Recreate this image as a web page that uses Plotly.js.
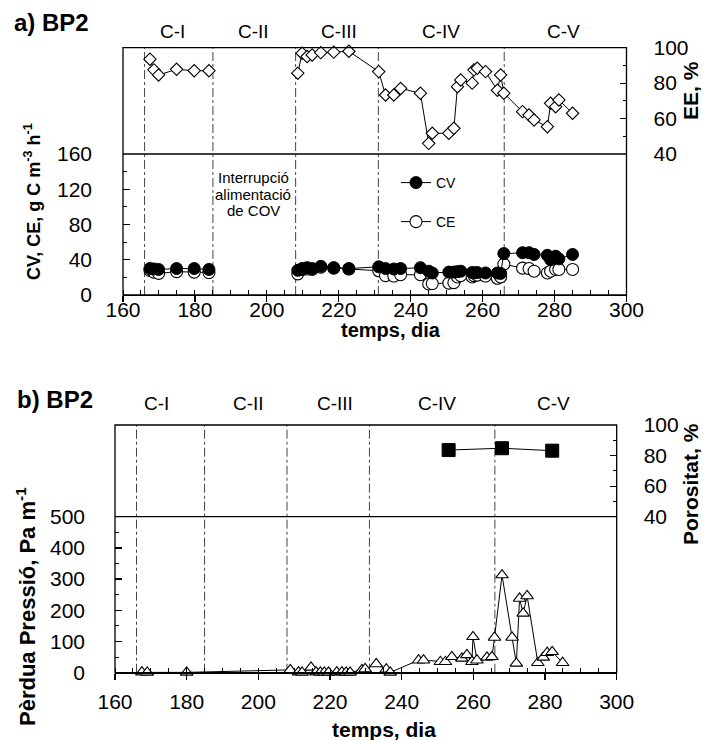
<!DOCTYPE html>
<html><head><meta charset="utf-8">
<script src="https://cdn.plot.ly/plotly-3.0.1.min.js"></script>
<style>body{margin:0;background:#fff}#chart{width:703px;height:740px}</style>
</head><body><div id="chart"></div>
<script>
// ---------- data (panel a) ----------
const diesA = [167.5, 168.6, 169.9, 174.9, 179.8, 183.9,
  208.6, 209.8, 211.2, 212.6, 215, 218.6, 222.8,
  231.1, 233, 235.3, 237.2, 242.7, 245, 246, 250.6, 252, 253, 253.9, 257.1, 257.6, 258.5, 260.8, 264.1, 265, 265.9,
  271.1, 272.9, 274.3, 278, 278.9, 280.3, 281.2, 285];
const CV = [30, 29.5, 29, 30, 30, 29,
  28, 30, 31, 30, 32.5, 31, 30,
  32, 30, 29.5, 30, 31, 27, 25, 26, 26, 26.5, 27, 25.5, 25, 25.5, 25, 25, 24.5, 47,
  48, 48, 46, 45, 40, 44, 41, 46];
const CE = [28, 26, 24.5, 26.5, 26, 25.5,
  24, 29, 29.5, 29, 31.5, 30.5, 29.5,
  27.5, 22, 21.5, 23, 23, 12.5, 13, 13.5, 14, 20.5, 22, 20.5, 22, 22.5, 21.5, 19, 20.5, 35,
  30.5, 30, 27, 25, 27, 29, 29, 29];
const EE = [93.5, 87.5, 84.6, 87.8, 87, 87,
  85.6, 96.9, 95, 95.9, 97.2, 97.5, 98,
  86.5, 73.3, 73.3, 77, 74.3, 46, 51.7, 51.7, 54.5, 78, 81.8, 80, 87.5, 88.4, 86.5, 76, 84.6, 74.3,
  63.9, 62, 59.2, 55.4, 68.6, 66.7, 70.5, 63];
// ---------- data (panel b) ----------
const diesP = [167.5, 169, 180, 208.9, 211.2, 212.2, 214.7, 216.1, 217.3, 218.4, 219.6, 221.9, 223.3, 224.5, 225.6,
  228.9, 229.8, 232.9, 235.7, 236.8, 244.7, 246.1, 250.8, 252.2, 254, 256.8, 258.2, 259.6, 259.9, 261, 263.8, 265.2,
  265.9, 268, 270.8, 272, 272.9, 273.9, 275, 278, 279.5, 280.6, 282, 284.9];
const perdua = [2, 1, 1, 9, 2, 1, 17, 2, 1, 1, 1, 2, 2, 1, 1,
  9, 12, 28, 11, 1, 40, 40, 35, 35, 51, 46, 57, 35, 115, 40, 49, 51,
  113, 313, 113, 30, 238, 190, 246, 32, 49, 64, 67, 32];
const diesPor = [253.1, 268, 282];
const porositat = [83.6, 84.8, 83.2];
// ---------- phases ----------
const fases = [166, 185, 208, 231, 266];
const nomsFase = ['C-I', 'C-II', 'C-III', 'C-IV', 'C-V'];

// ---------- helpers ----------
const W = 703, H = 740;
const px = v => v / W;
const py = v => 1 - v / H;
const FONT = 'Liberation Sans, Arial, sans-serif';
function gaps(x, y) { // break the line where the feed was interrupted
  const xo = [], yo = [];
  for (let i = 0; i < x.length; i++) {
    if (i > 0 && x[i] - x[i - 1] > 15) { xo.push(null); yo.push(null); }
    xo.push(x[i]); yo.push(y[i]);
  }
  return [xo, yo];
}
const A = {l: 123, r: 626.5, t: 47.7, m: 154, b: 295};
const B = {l: 115, r: 616.7, t: 425, m: 516.7, b: 672.7};

const [xEE, yEE] = gaps(diesA, EE);
const [xCV, yCV] = gaps(diesA, CV);
const [xCE, yCE] = gaps(diesA, CE);

const lineK = {color: '#000', width: 1};
const traces = [
  {x: xEE, y: yEE, xaxis: 'x', yaxis: 'y2', mode: 'lines+markers', showlegend: false, cliponaxis: false,
   line: lineK, marker: {symbol: 'diamond', size: 9.5, color: '#fff', line: {color: '#000', width: 1.1}}},
  {x: xCE, y: yCE, xaxis: 'x', yaxis: 'y', mode: 'lines+markers', name: 'CE', legend: 'legend2', cliponaxis: false,
   line: lineK, marker: {symbol: 'circle', size: 12, color: '#fff', line: {color: '#000', width: 1.1}}},
  {x: xCV, y: yCV, xaxis: 'x', yaxis: 'y', mode: 'lines+markers', name: 'CV', legend: 'legend', cliponaxis: false,
   line: lineK, marker: {symbol: 'circle', size: 12, color: '#000', line: {color: '#000', width: 1}}},
  {x: diesP, y: perdua, xaxis: 'x2', yaxis: 'y3', mode: 'lines+markers', showlegend: false, cliponaxis: false,
   line: lineK, marker: {symbol: 'triangle-up', size: 11, color: '#fff', line: {color: '#000', width: 1.1}}},
  {x: diesPor, y: porositat, xaxis: 'x2', yaxis: 'y4', mode: 'lines+markers', showlegend: false, cliponaxis: false,
   line: lineK, marker: {symbol: 'square', size: 13, color: '#000', line: {color: '#000', width: 1}}}
];

const tickF = {family: FONT, size: 21, color: '#000'};
function xax(P, anchor, standoff) {
  return {domain: [px(P.l), px(P.r)], range: [160, 300], anchor: anchor, dtick: 20, tick0: 0,
    ticks: 'outside', ticklen: 6, tickwidth: 1.2, tickcolor: '#000', ticklabelstandoff: standoff,
    minor: {dtick: 5, ticks: 'inside', ticklen: 5, tickwidth: 1, tickcolor: '#000'},
    showgrid: false, zeroline: false, showline: true, linecolor: '#000', linewidth: 1.3,
    tickfont: tickF, fixedrange: true};
}
function yax(P, lo, hi, range, dt, mdt, anchor, side, standoff) {
  return {domain: [py(lo), py(hi)], range: range, anchor: anchor, side: side, dtick: dt, tick0: 0,
    ticks: 'inside', ticklen: 7, tickwidth: 1.2, tickcolor: '#000', ticklabelstandoff: standoff,
    minor: {dtick: mdt, ticks: 'inside', ticklen: 4, tickwidth: 1, tickcolor: '#000'},
    showgrid: false, zeroline: false, showline: false,
    tickfont: tickF, fixedrange: true};
}

const shapes = [];
[A, B].forEach(P => {
  shapes.push({type: 'rect', xref: 'paper', yref: 'paper', x0: px(P.l), x1: px(P.r), y0: py(P.b), y1: py(P.t),
    line: {color: '#000', width: 1.3}});
  shapes.push({type: 'line', xref: 'paper', yref: 'paper', x0: px(P.l), x1: px(P.r), y0: py(P.m), y1: py(P.m),
    line: {color: '#000', width: 1.3}});
});
fases.forEach(d => {
  shapes.push({type: 'line', xref: 'x', yref: 'paper', x0: d, x1: d, y0: py(A.b), y1: py(A.t), layer: 'below',
    line: {color: '#444', width: 1, dash: 'dashdot'}});
  shapes.push({type: 'line', xref: 'x2', yref: 'paper', x0: d, x1: d, y0: py(B.b), y1: py(B.t), layer: 'below',
    line: {color: '#444', width: 1, dash: 'dashdot'}});
});

function txt(text, x, y, size, bold, extra) {
  return Object.assign({text: bold ? '<b>' + text + '</b>' : text, xref: 'paper', yref: 'paper', x: px(x), y: py(y),
    xanchor: 'center', yanchor: 'middle', showarrow: false,
    font: {family: FONT, size: size, color: '#000'}}, extra || {});
}
const annotations = [
  txt('a) BP2', 12, 22, 24, true, {xanchor: 'left'}),
  txt('b) BP2', 15, 399, 24, true, {xanchor: 'left'}),
  txt('CV, CE, g C m<sup>-3</sup> h<sup>-1</sup>', 32, 202, 18, true, {textangle: -90}),
  txt('EE, %', 691, 91, 21, true, {textangle: -90}),
  txt('Pèrdua Pressió, Pa m<sup>-1</sup>', 26, 607, 22, true, {textangle: -90}),
  txt('Porositat, %', 690, 484, 21, true, {textangle: -90}),
  txt('temps, dia', 391, 330, 20, true),
  txt('temps, dia', 384, 729, 21, true),
  txt('Interrupció', 253, 177, 15, false),
  txt('alimentació', 253, 194, 15, false),
  txt('de COV', 253, 211, 15, false)
];
const labA = [172, 253, 338.7, 441, 563];
const labB = [156, 248, 335, 437.5, 553];
nomsFase.forEach((n, i) => {
  annotations.push(txt(n, labA[i], 31, 19, false));
  annotations.push(txt(n, labB[i], 403, 19, false));
});

const legStyle = {font: {family: FONT, size: 14, color: '#000'}, bgcolor: 'rgba(0,0,0,0)', borderwidth: 0,
  xanchor: 'left', yanchor: 'middle', itemwidth: 30, itemclick: false, itemdoubleclick: false};

const layout = {
  width: W, height: H, margin: {l: 0, r: 0, t: 0, b: 0},
  paper_bgcolor: '#fff', plot_bgcolor: 'rgba(0,0,0,0)',
  font: {family: FONT, color: '#000'},
  xaxis: xax(A, 'y', -11),
  yaxis: yax(A, A.b, A.m, [0, 160], 40, 20, 'x', 'left', 30),
  yaxis2: yax(A, A.m, A.t, [40, 100], 20, 10, 'x', 'right', 26),
  xaxis2: xax(B, 'y3', 4),
  yaxis3: yax(B, B.b, B.m, [0, 500], 100, 50, 'x2', 'left', 29),
  yaxis4: yax(B, B.m, B.t, [40, 100], 20, 10, 'x2', 'right', 26),
  legend: Object.assign({x: px(396), y: py(183)}, legStyle),
  legend2: Object.assign({x: px(396), y: py(222)}, legStyle),
  shapes: shapes,
  annotations: annotations
};
Plotly.newPlot('chart', traces, layout, {displayModeBar: false, staticPlot: true});
</script>
</body></html>
